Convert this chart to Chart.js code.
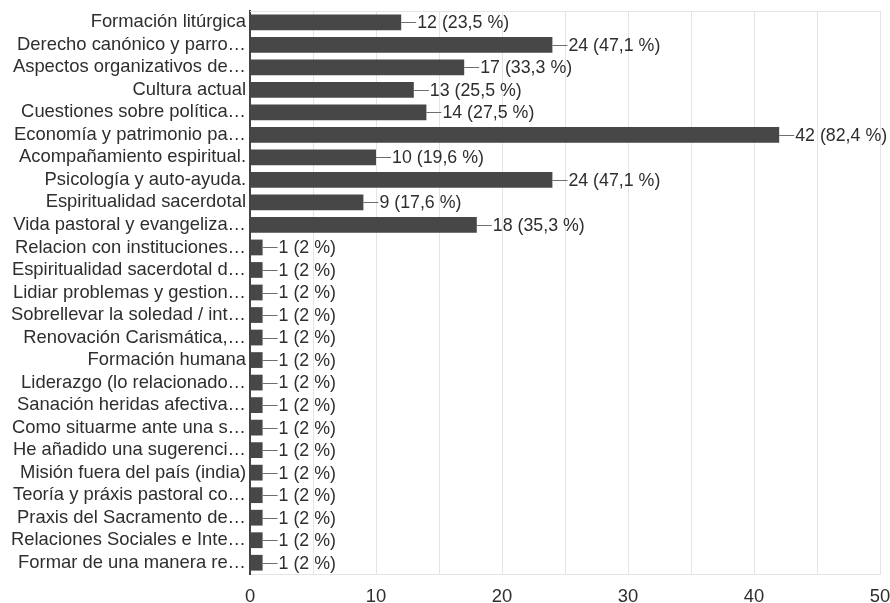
<!DOCTYPE html>
<html>
<head>
<meta charset="utf-8">
<script src="https://cdn.jsdelivr.net/npm/chart.js@4.4.1/dist/chart.umd.min.js"></script>
<style>
  html, body { margin: 0; padding: 0; background: #fff; }
  #wrap { width: 890px; height: 603px; }
</style>
</head>
<body>
<div id="wrap"><canvas id="myChart" width="890" height="603"></canvas></div>
<script>
// categories, top to bottom
const categories = [
    "Formación litúrgica",
    "Derecho canónico y parro…",
    "Aspectos organizativos de…",
    "Cultura actual",
    "Cuestiones sobre política…",
    "Economía y patrimonio pa…",
    "Acompañamiento espiritual.",
    "Psicología y auto-ayuda.",
    "Espiritualidad sacerdotal",
    "Vida pastoral y evangeliza…",
    "Relacion con instituciones…",
    "Espiritualidad sacerdotal d…",
    "Lidiar problemas y gestion…",
    "Sobrellevar la soledad / int…",
    "Renovación Carismática,…",
    "Formación humana",
    "Liderazgo (lo relacionado…",
    "Sanación heridas afectiva…",
    "Como situarme ante una s…",
    "He añadido una sugerenci…",
    "Misión fuera del país (india)",
    "Teoría y práxis pastoral co…",
    "Praxis del Sacramento de…",
    "Relaciones Sociales e Inte…",
    "Formar de una manera re…"
];
const counts = [12, 24, 17, 13, 14, 42, 10, 24, 9, 18,
    1, 1, 1, 1, 1, 1, 1, 1, 1, 1, 1, 1, 1, 1, 1];
const percents = ["23,5", "47,1", "33,3", "25,5", "27,5", "82,4", "19,6", "47,1", "17,6", "35,3",
    "2", "2", "2", "2", "2", "2", "2", "2", "2", "2", "2", "2", "2", "2", "2"];
const xTicks = [0, 10, 20, 30, 40, 50];

const FONT = "'Liberation Sans', Arial, sans-serif";
const FSIZE = 18.4;

// faint frame line along the top of the plot
const topLine = {
    id: 'topLine',
    beforeDatasetsDraw(chart) {
        const { ctx, chartArea } = chart;
        ctx.save();
        ctx.strokeStyle = '#e4e4e4';
        ctx.lineWidth = 1;
        ctx.beginPath();
        ctx.moveTo(chartArea.left, chartArea.top + 0.5);
        ctx.lineTo(chartArea.right, chartArea.top + 0.5);
        ctx.stroke();
        ctx.restore();
    }
};

// "—12 (23,5 %)" next to each bar
const barLabels = {
    id: 'barLabels',
    afterDatasetsDraw(chart) {
        const ctx = chart.ctx;
        const meta = chart.getDatasetMeta(0);
        ctx.save();
        ctx.font = '17.8px ' + FONT;
        ctx.textBaseline = 'middle';
        ctx.textAlign = 'left';
        meta.data.forEach((bar, i) => {
            const x = bar.x, y = bar.y;
            ctx.strokeStyle = '#6e6e6e';
            ctx.lineWidth = 1;
            ctx.beginPath();
            ctx.moveTo(x, Math.round(y) + 0.5);
            ctx.lineTo(x + 15, Math.round(y) + 0.5);
            ctx.stroke();
            ctx.fillStyle = '#2e2e2e';
            ctx.fillText(counts[i] + ' (' + percents[i] + ' %)', x + 16, y + 1);
        });
        ctx.restore();
    }
};

const config = {
    type: 'bar',
    data: {
        labels: categories,
        datasets: [{
            data: counts,
            backgroundColor: '#474747',
            borderWidth: 0,
            barPercentage: 0.7,
            categoryPercentage: 1.0
        }]
    },
    options: {
        indexAxis: 'y',
        responsive: false,
        animation: false,
        layout: { padding: { top: 11, right: 10, bottom: 0, left: 0 } },
        plugins: {
            legend: { display: false },
            tooltip: { enabled: false }
        },
        scales: {
            x: {
                min: 0,
                max: 50,
                ticks: {
                    stepSize: 5,
                    padding: 12,
                    color: '#2e2e2e',
                    font: { family: FONT, size: FSIZE },
                    callback: (v) => xTicks.includes(v) ? String(v) : ''
                },
                grid: { color: '#e4e4e4', drawTicks: false },
                border: { display: true, color: '#e4e4e4' },
                afterFit: (scale) => {
                    scale.height = 29;
                    scale.paddingLeft = 0;
                    scale.paddingRight = 0;
                }
            },
            y: {
                ticks: {
                    padding: 4,
                    color: '#2e2e2e',
                    autoSkip: false,
                    font: { family: FONT, size: FSIZE }
                },
                grid: { display: false, drawTicks: false },
                border: { display: true, color: '#444', width: 2 },
                afterFit: (scale) => {
                    scale.width = 250;
                    scale.paddingTop = 0;
                    scale.paddingBottom = 0;
                }
            }
        }
    },
    plugins: [topLine, barLabels]
};
new Chart(document.getElementById('myChart'), config);
</script>
</body>
</html>
